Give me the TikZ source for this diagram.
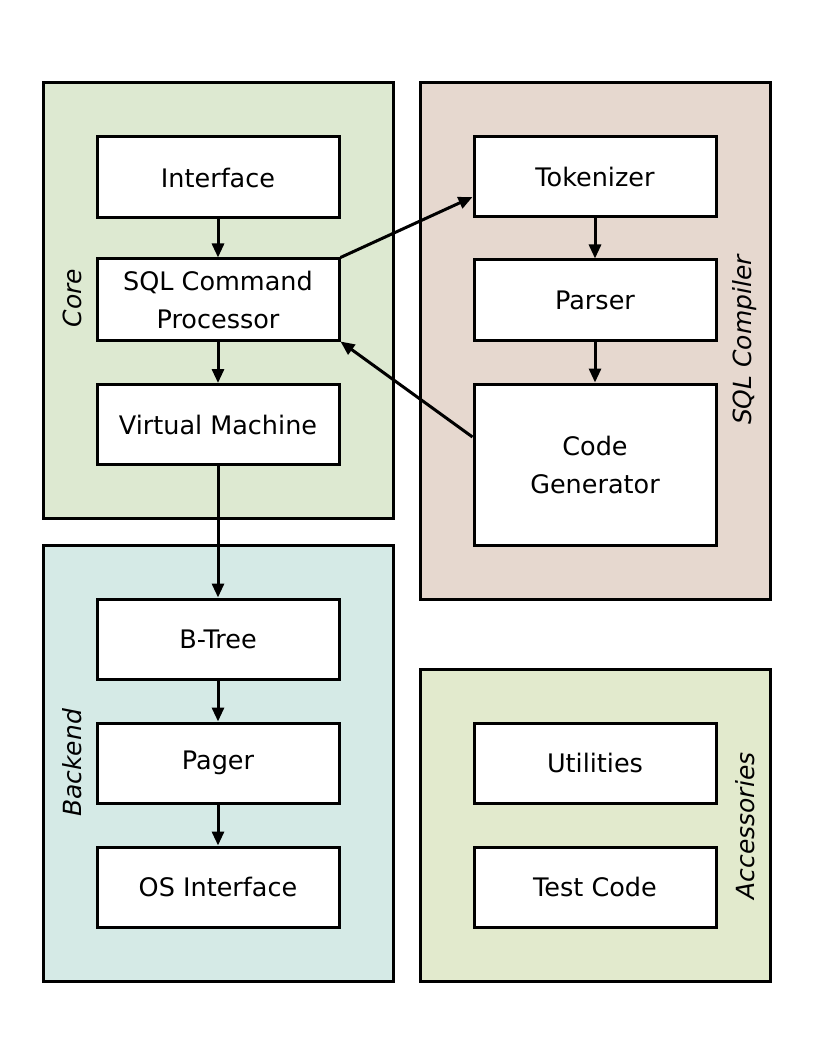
\documentclass[tikz,border=0pt]{standalone}
\usepackage{fontspec}
\setmainfont{DejaVu Sans}
\usetikzlibrary{arrows.meta,calc}
\definecolor{coreC}{HTML}{DDE9D1}
\definecolor{sqlC}{HTML}{E6D8CF}
\definecolor{backC}{HTML}{D5EAE6}
\definecolor{accC}{HTML}{E2EACD}
\begin{document}
\begin{tikzpicture}[x=1pt,y=-1pt,
  grp/.style={draw=black,line width=3pt,minimum width=350pt,inner sep=0pt},
  box/.style={draw=black,fill=white,line width=3pt,minimum width=242pt,minimum height=80pt,inner sep=0pt,align=center,
    font=\fontsize{25.5}{38}\selectfont},
  lbl/.style={rotate=90,font=\fontsize{25}{30}\selectfont\itshape,inner sep=0pt},
  arr/.style={line width=3pt,-{Triangle[length=14pt,width=12pt]}}]
\useasboundingbox (0,0) rectangle (838,1056);
% groups
\node[grp,fill=coreC,minimum height=435pt] (core) at (218,300.5) {};
\node[grp,fill=sqlC,minimum height=516pt] (sqlc) at (595,341) {};
\node[grp,fill=backC,minimum height=436pt] (back) at (218,763) {};
\node[grp,fill=accC,minimum height=312pt] (acc) at (595,825) {};
% group labels
\node[lbl] (lcore) at (72,298) {Core};
\node[lbl] (lsql) at (745,340) {SQL Compiler};
\node[lbl] (lback) at (72,763) {Backend};
\node[lbl] (lacc) at (745,826) {Accessories};
% boxes
\node[box,minimum height=81pt] (iface) at (218,177.5) {Interface};
\node[box,minimum height=81pt] (sqlcmd) at (218,299.5) {SQL Command\\Processor};
\node[box] (vm) at (218,424.5) {Virtual Machine};
\node[box] (tok) at (595,177) {Tokenizer};
\node[box] (parser) at (595,300) {Parser};
\node[box,minimum height=161pt] (codegen) at (595,464.5) {Code\\Generator};
\node[box] (btree) at (218,639) {B-Tree};
\node[box] (pager) at (218,763) {Pager};
\node[box] (os) at (218,887) {OS Interface};
\node[box] (util) at (595,763) {Utilities};
\node[box] (test) at (595,887) {Test Code};
% arrows
\draw[arr] (iface) -- (sqlcmd);
\draw[arr] (sqlcmd) -- (vm);
\draw[arr] (vm) -- (btree);
\draw[arr] (btree) -- (pager);
\draw[arr] (pager) -- (os);
\draw[arr] (tok) -- (parser);
\draw[arr] (parser) -- (codegen);
\draw[arr] (sqlcmd.north east) -- ([yshift=-20pt]tok.west);
\draw[arr] ([yshift=27.5pt]codegen.west) -- (sqlcmd.south east);
\end{tikzpicture}
\end{document}
